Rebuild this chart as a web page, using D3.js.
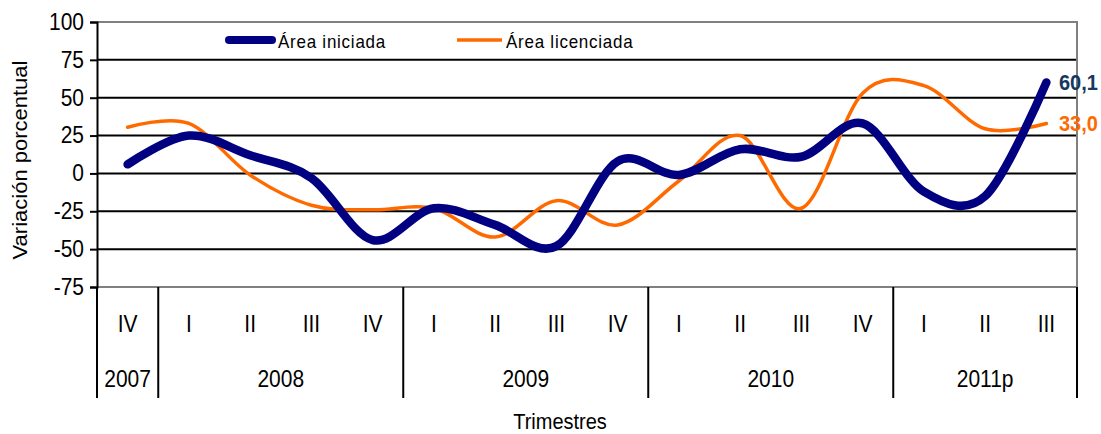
<!DOCTYPE html>
<html>
<head>
<meta charset="utf-8">
<script src="https://cdn.jsdelivr.net/npm/d3@7"></script>
<style>
  body { margin: 0; background: #fff; }
  text { font-family: "Liberation Sans", Arial, sans-serif; fill: #000; }
</style>
</head>
<body>
<div id="chart"></div>
<script>
// trimestres (IV 2007 .. III 2011p)
var quarters = ['IV','I','II','III','IV','I','II','III','IV','I','II','III','IV','I','II','III'];
var years = ['2007','2008','2009','2010','2011p'];
var quartersPerYear = [1, 4, 4, 4, 3];
var yTicks = [-75, -50, -25, 0, 25, 50, 75, 100];

// variacion porcentual anual
var areaIniciada = [6, 25, 12, -3, -44, -23, -34, -48, 8, -1, 16, 11, 33, -12, -15, 60.1];
var areaLicenciada = [30.5, 33, -1, -21, -24, -23, -42, -18, -34, -5, 25, -23, 53, 58, 29.5, 33.0];

(function () {
  var W = 1101, H = 434;
  var plotLeft = 97, plotRight = 1077, plotTop = 22, plotBottom = 287;
  var SY = 1.1; // texts in the picture are a bit taller than wide

  var svg = d3.select('#chart').append('svg').attr('width', W).attr('height', H);

  var x = d3.scaleBand().domain(d3.range(quarters.length)).range([plotLeft, plotRight]).padding(0);
  var y = d3.scaleLinear().domain([-75, 100]).range([plotBottom, plotTop]);

  var putText = function(g, tx, ty, str, anchor) {
    return g.append('text')
      .attr('transform', 'translate(' + tx + ',' + ty + ') scale(1,' + SY + ')')
      .attr('text-anchor', anchor || 'middle')
      .text(str);
  };

  // grid lines
  svg.append('g').selectAll('line')
    .data(yTicks.filter(function(d) { return d > -75 && d < 100; }))
    .enter().append('line')
      .attr('x1', plotLeft).attr('x2', plotRight)
      .attr('y1', function(d) { return y(d); }).attr('y2', function(d) { return y(d); })
      .attr('stroke', '#000').attr('stroke-width', 2);

  // plot border top / right / bottom (gray)
  svg.append('path')
    .attr('d', 'M' + plotLeft + ',' + y(100) + 'H' + plotRight + 'V' + y(-75) + 'H' + plotLeft)
    .attr('fill', 'none').attr('stroke', '#808080').attr('stroke-width', 2);

  // y axis
  var yAxis = svg.append('g')
    .attr('transform', 'translate(' + plotLeft + ',0)')
    .call(d3.axisLeft(y).tickValues(yTicks).tickSize(7).tickPadding(6).tickFormat(function(d) { return String(d); }));
  yAxis.select('.domain').attr('stroke', '#000').attr('stroke-width', 2);
  yAxis.selectAll('.tick line').attr('stroke', '#000').attr('stroke-width', 2);
  yAxis.selectAll('.tick text')
    .attr('font-size', 21).attr('font-family', '"Liberation Sans", Arial, sans-serif')
    .attr('transform', 'scale(1,' + SY + ')');

  // y label
  svg.append('text')
    .attr('transform', 'translate(27,160) rotate(-90) scale(' + SY + ',1)')
    .attr('text-anchor', 'middle').attr('font-size', 20)
    .text('Variación porcentual');

  // category axis: quarters, years and dividers
  var catAxis = svg.append('g');
  quarters.forEach(function(q, i) {
    putText(catAxis, x(i) + x.bandwidth() / 2, 332, q).attr('font-size', 21);
  });
  var start = 0;
  var dividers = [plotLeft];
  years.forEach(function(yr, j) {
    var x0 = x(start), x1 = x(start + quartersPerYear[j] - 1) + x.bandwidth();
    putText(catAxis, (x0 + x1) / 2, 387, yr).attr('font-size', 21);
    start += quartersPerYear[j];
    dividers.push(x1);
  });
  catAxis.selectAll('line.div')
    .data(dividers)
    .enter().append('line').attr('class', 'div')
      .attr('x1', function(d) { return d; }).attr('x2', function(d) { return d; })
      .attr('y1', plotBottom).attr('y2', 398)
      .attr('stroke', '#000').attr('stroke-width', 2);

  putText(svg, 560, 429, 'Trimestres').attr('font-size', 20);

  // series
  var line = d3.line()
    .x(function(d, i) { return x(i) + x.bandwidth() / 2; })
    .y(function(d) { return y(d); })
    .curve(d3.curveCardinal.tension(0));

  svg.append('path').datum(areaLicenciada)
    .attr('d', line).attr('fill', 'none')
    .attr('stroke', '#FF6A00').attr('stroke-width', 3.5)
    .attr('stroke-linecap', 'round').attr('stroke-linejoin', 'round');

  svg.append('path').datum(areaIniciada)
    .attr('d', line).attr('fill', 'none')
    .attr('stroke', '#000080').attr('stroke-width', 8.5)
    .attr('stroke-linecap', 'round').attr('stroke-linejoin', 'round');

  // end labels
  var last = quarters.length - 1;
  var fmt = function(v) { return v.toFixed(1).replace('.', ','); };
  putText(svg, 1059, y(areaIniciada[last]) + 8, fmt(areaIniciada[last]), 'start')
    .attr('font-size', 20).attr('font-weight', 'bold').style('fill', '#17375E');
  putText(svg, 1059, y(areaLicenciada[last]) + 8, fmt(areaLicenciada[last]), 'start')
    .attr('font-size', 20).attr('font-weight', 'bold').style('fill', '#FF6A00');

  // legend
  var legend = svg.append('g');
  legend.append('line').attr('x1', 229).attr('x2', 272).attr('y1', 40).attr('y2', 40)
    .attr('stroke', '#000080').attr('stroke-width', 8).attr('stroke-linecap', 'round');
  putText(legend, 278, 48, 'Área iniciada', 'start').attr('font-size', 17).attr('letter-spacing', 0.75);
  legend.append('line').attr('x1', 457).attr('x2', 502).attr('y1', 40).attr('y2', 40)
    .attr('stroke', '#FF6A00').attr('stroke-width', 3.5);
  putText(legend, 506, 48, 'Área licenciada', 'start').attr('font-size', 17).attr('letter-spacing', 0.75);
})();
</script>
</body>
</html>
